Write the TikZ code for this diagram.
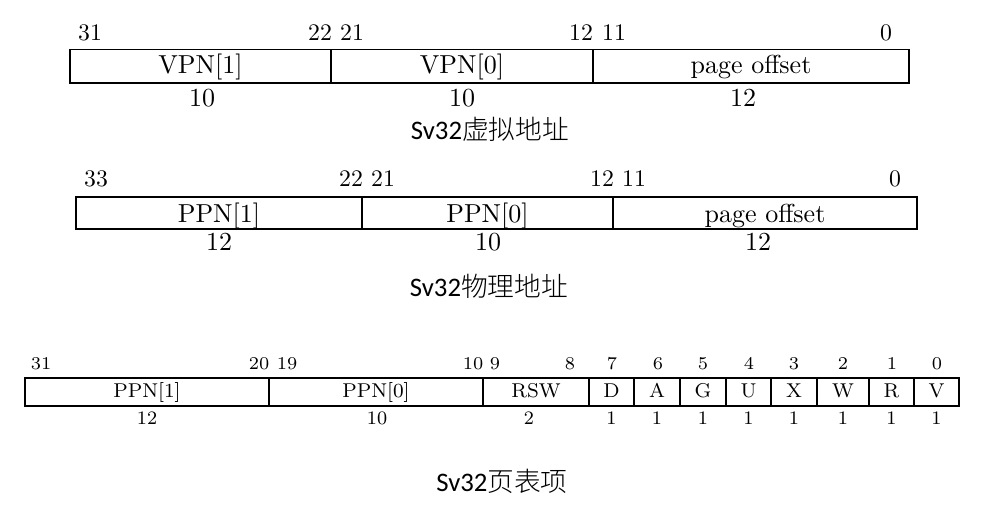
\documentclass[tikz,border=0pt]{standalone}
\usepackage{fontspec}
\newfontfamily\cjkfont{Noto Sans CJK SC}[UprightFont={* Light}]
\newfontfamily\capfont{Carlito}
\usetikzlibrary{fit}
\begin{document}
\begin{tikzpicture}[x=0.4pt,y=-0.4pt,
  cell/.style={draw, line width=0.6pt, inner sep=0pt, outer sep=0pt},
  txt/.style={anchor=base, inner sep=0pt, outer sep=0pt},
  labA/.style={txt, font=\fontsize{10.4}{12}\selectfont},
  bitA/.style={txt, font=\fontsize{9.5}{11}\selectfont},
  labC/.style={txt, font=\fontsize{8}{10}\selectfont},
  bitC/.style={txt, font=\fontsize{7.2}{8}\selectfont},
  widC/.style={txt, font=\fontsize{7.6}{9}\selectfont},
  captxt/.style={txt, font=\fontsize{10.7}{13}\selectfont}]
\fill[white] (0,0) rectangle (985,517);
\useasboundingbox (0,0) rectangle (985,517);

% ---------- Sv32 virtual address ----------
\node[cell, fit={(70,49.5) (331,83)}] (vpn1) {};
\node[cell, fit={(331,49.5) (593,83)}] (vpn0) {};
\node[cell, fit={(593,49.5) (909,83)}] (voff) {};
\node[labA] (vpn1t) at (200.5,74) {VPN[1]};
\node[labA] (vpn0t) at (462,74) {VPN[0]};
\node[labA] (vofft) at (751,74) {page offset};
\node[bitA] (vb31) at (90,41) {31};
\node[bitA] (vb22) at (320,41) {22};
\node[bitA] (vb21) at (352,41) {21};
\node[bitA] (vb12) at (581,41) {12};
\node[bitA] (vb11) at (614,41) {11};
\node[bitA] (vb0) at (886,41) {0};
\node[labA] (vw1) at (202,107) {10};
\node[labA] (vw0) at (462,107) {10};
\node[labA] (vwo) at (743,107) {12};
\node[captxt] (cap1) at (490,140) {\capfont Sv32\cjkfont 虚拟地址};

% ---------- Sv32 physical address ----------
\node[cell, fit={(76,197) (362,229)}] (ppn1) {};
\node[cell, fit={(362,197) (613,229)}] (ppn0) {};
\node[cell, fit={(613,197) (917,229)}] (poff) {};
\node[labA] (ppn1t) at (219,223) {PPN[1]};
\node[labA] (ppn0t) at (487.5,223) {PPN[0]};
\node[labA] (pofft) at (765,223) {page offset};
\node[bitA] (pb33) at (96,187) {33};
\node[bitA] (pb22) at (351,187) {22};
\node[bitA] (pb21) at (383,187) {21};
\node[bitA] (pb12) at (602,187) {12};
\node[bitA] (pb11) at (634,187) {11};
\node[bitA] (pb0) at (895,187) {0};
\node[labA] (pw1) at (219,251) {12};
\node[labA] (pw0) at (488,251) {10};
\node[labA] (pwo) at (758,251) {12};
\node[captxt] (cap2) at (489,297) {\capfont Sv32\cjkfont 物理地址};

% ---------- Sv32 page table entry ----------
\foreach \a/\b/\n/\t in {25/269/e1/PPN[1], 269/483/e0/PPN[0], 483/589/rsw/RSW,
  589/634/fd/D, 634/680/fa/A, 680/726/fg/G, 726/771/fu/U, 771/817/fx/X,
  817/869/fw/W, 869/914/fr/R, 914/959/fv/V}{
  \node[cell, fit={(\a,378) (\b,406)}] (\n) {};
  \node[labC] (\n t) at ({(\a+\b)/2},398) {\t};
}
\foreach \x/\t in {41/31, 259/20, 287/19, 473/10, 495/9, 570/8, 612/7, 658/6,
  703/5, 749/4, 794/3, 843/2, 892/1, 937/0}{
  \node[bitC] (eb\t) at (\x,370) {\t};
}
\node[widC] (ew1) at (147,425) {12};
\node[widC] (ew0) at (377,425) {10};
\node[widC] (ewr) at (529,425) {2};
\foreach \x/\n in {611.5/d, 657/a, 703/g, 748.5/u, 794/x, 843/w, 891.5/r, 936.5/v}{
  \node[widC] (ew\n) at (\x,425) {1};
}
\node[captxt] (cap3) at (502,492) {\capfont Sv32\cjkfont 页表项};
\end{tikzpicture}
\end{document}
